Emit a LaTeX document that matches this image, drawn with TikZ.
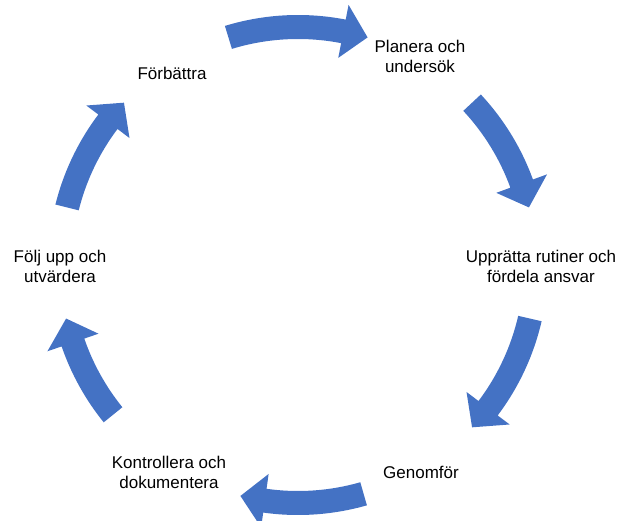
\documentclass[tikz,border=0pt]{standalone}
\usepackage{fontspec}
\setmainfont{Liberation Sans}
\usetikzlibrary{positioning}
\definecolor{cycblue}{RGB}{68,114,196}
\tikzset{lbl/.style={align=center,inner sep=0pt,font=\fontsize{17}{20}\selectfont}}
% curved block arrow round (c): #1 tail angle, #2 tip angle
\newcommand{\cycarrow}[2]{%
  \fill[cycblue] ([shift={(#1:250)}]c) arc[start angle=#1,end angle=#2+6,radius=250]
    -- ([shift={(#2+6:265)}]c) -- ([shift={(#2:238)}]c) -- ([shift={(#2+6:211)}]c)
    -- ([shift={(#2+6:226)}]c) arc[start angle=#2+6,end angle=#1,radius=226] -- cycle;}

\begin{document}
\begin{tikzpicture}[x=1pt,y=1pt]
\useasboundingbox (0,0) rectangle (623,520);
\coordinate (c) at (298,255);
\node[lbl] (plan) at (420,464) {Planera och\\undersök};
\node[lbl] (rutin) at (541,254) {Upprätta rutiner och\\fördela ansvar};
\node[lbl] (genom) at (421,48) {Genomför};
\node[lbl] (kontr) at (169,48) {Kontrollera och\\dokumentera};
\node[lbl] (folj) at (60,254) {Följ upp och\\utvärdera};
\node[lbl] (forb) at (172,447) {Förbättra};
\cycarrow{107}{73}
\cycarrow{43}{14}
\cycarrow{-13}{-43}
\cycarrow{-74}{-104}
\cycarrow{-141}{-167}
\cycarrow{166}{137}
\end{tikzpicture}
\end{document}
